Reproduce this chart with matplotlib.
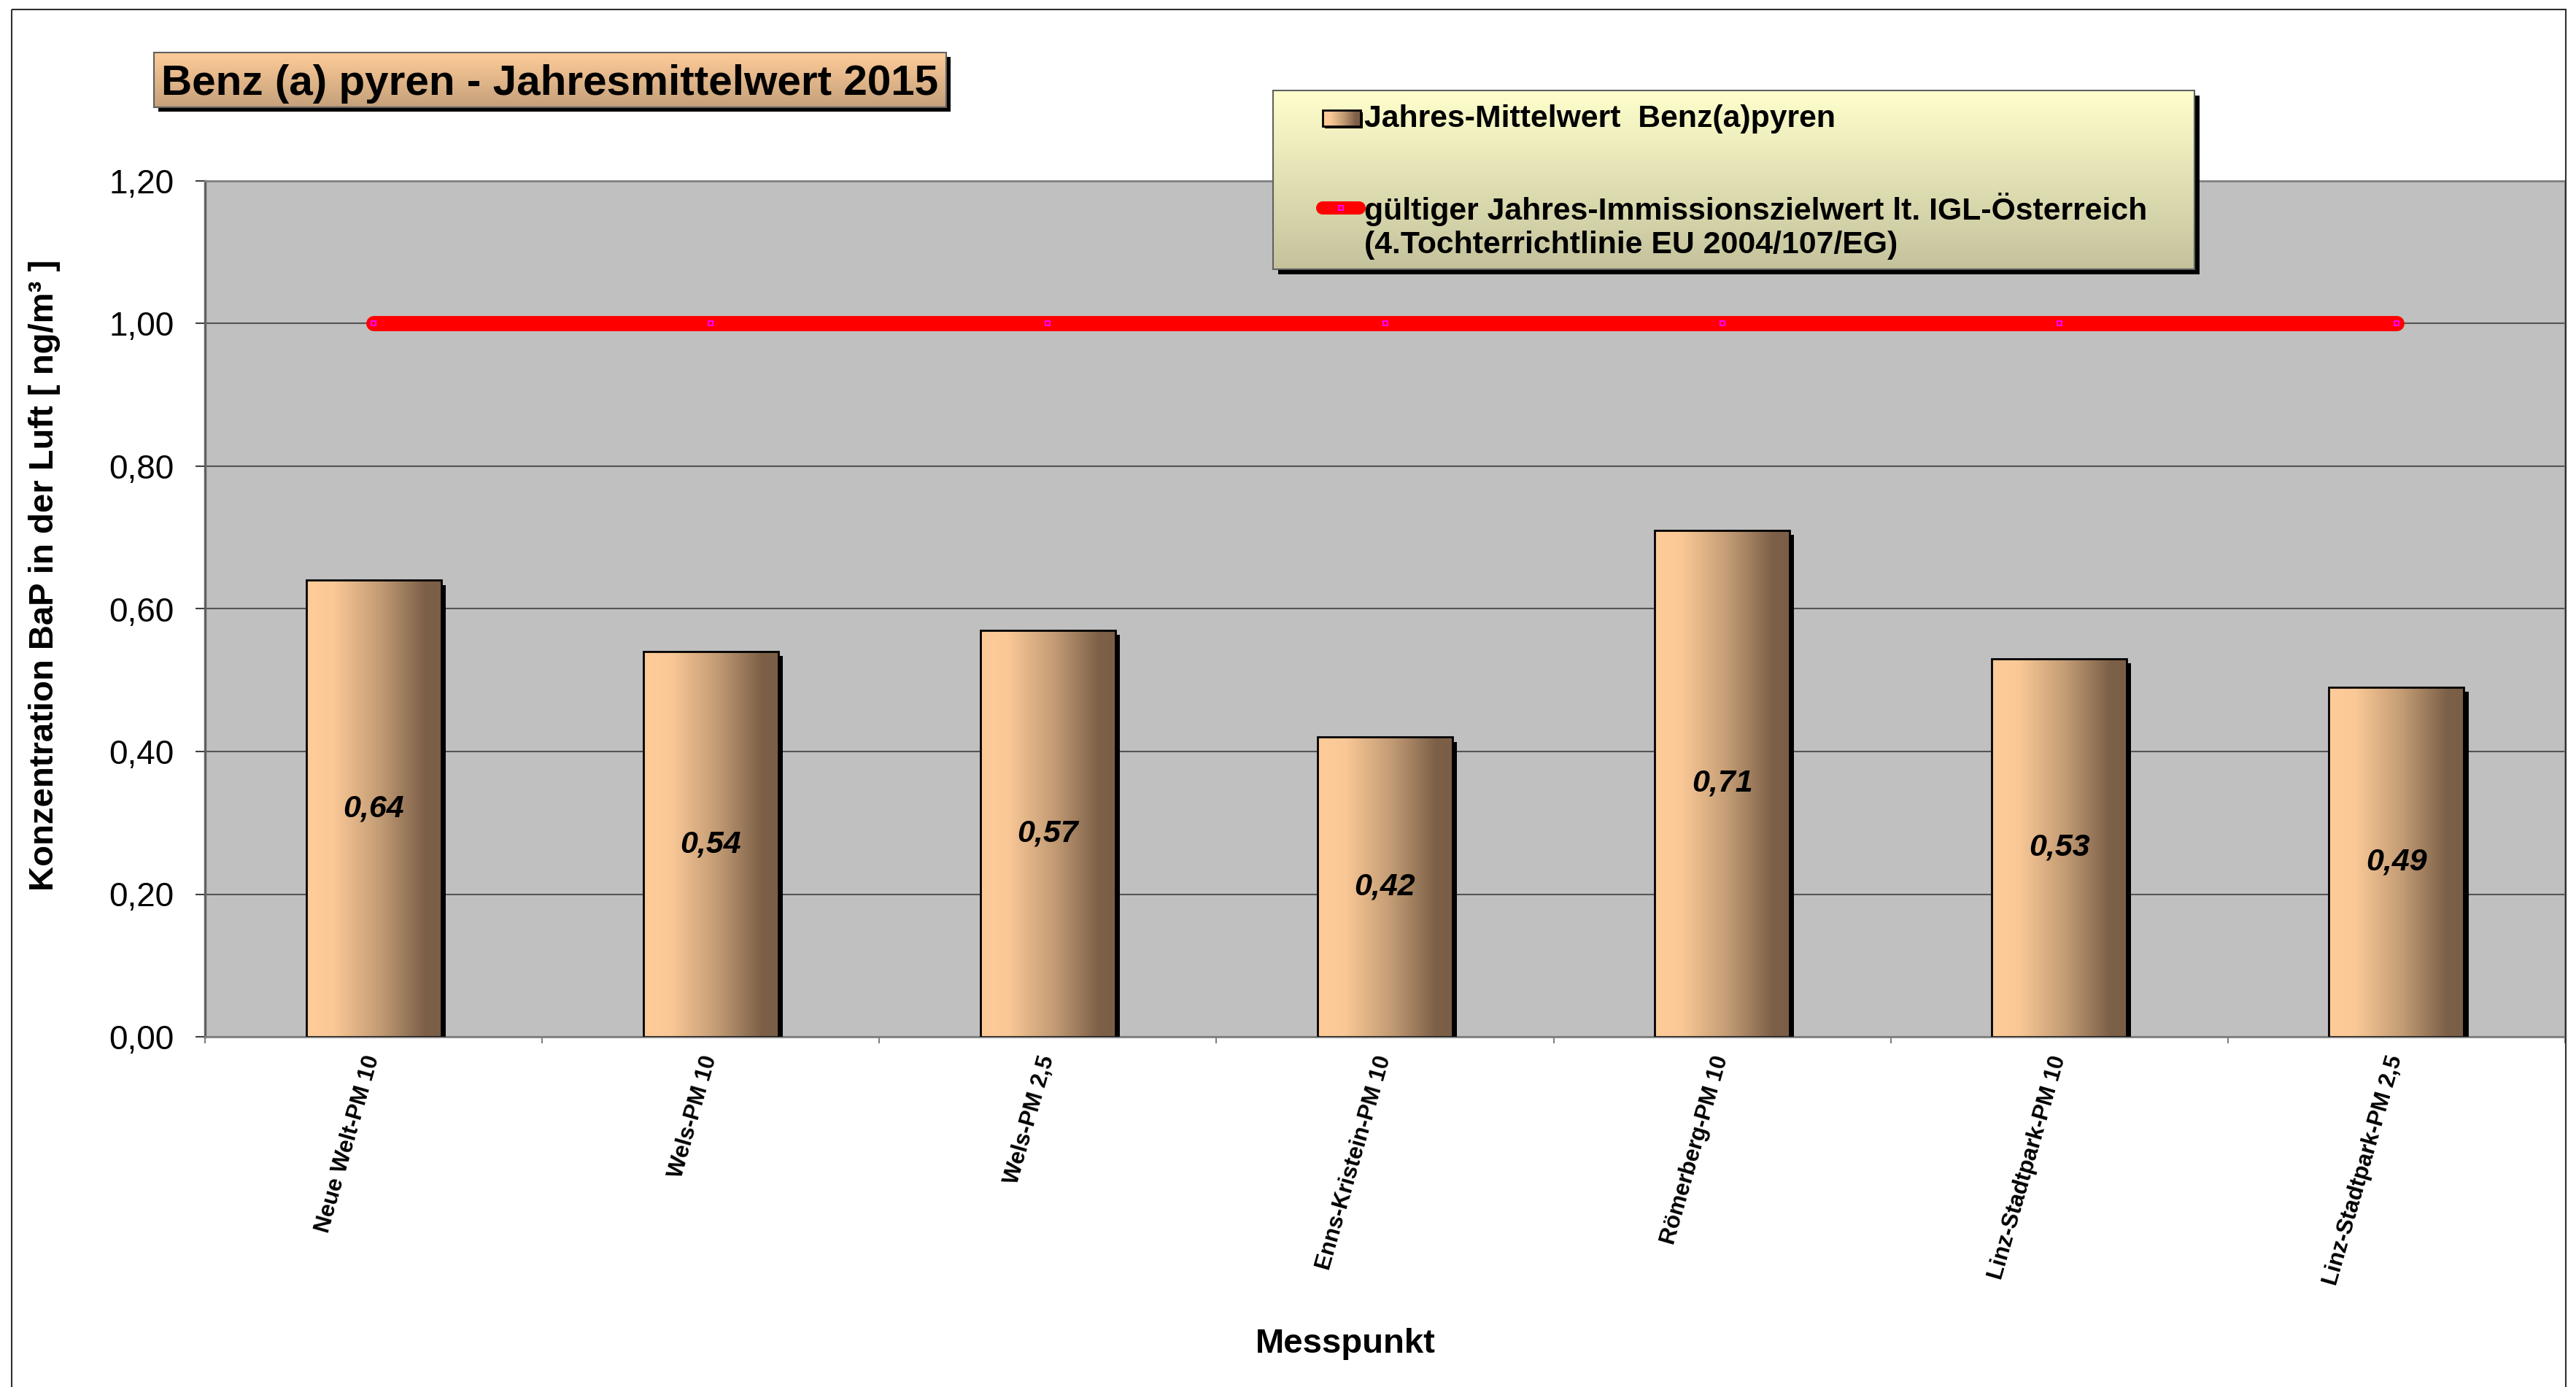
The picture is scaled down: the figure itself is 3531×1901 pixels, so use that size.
import matplotlib
matplotlib.use("Agg")
import matplotlib.pyplot as plt
import numpy as np
from matplotlib.colors import LinearSegmentedColormap
from matplotlib.patches import Rectangle
from matplotlib import patheffects as pe

# Daten
messpunkte = ["Neue Welt-PM 10", "Wels-PM 10", "Wels-PM 2,5", "Enns-Kristein-PM 10",
              "Römerberg-PM 10", "Linz-Stadtpark-PM 10", "Linz-Stadtpark-PM 2,5"]
mittelwerte = [0.64, 0.54, 0.57, 0.42, 0.71, 0.53, 0.49]
zielwert = [1.0, 1.0, 1.0, 1.0, 1.0, 1.0, 1.0]
y_ticks = [0.0, 0.2, 0.4, 0.6, 0.8, 1.0, 1.2]

titel = "Benz (a) pyren - Jahresmittelwert 2015"
leg_bar = "Jahres-Mittelwert  Benz(a)pyren"
leg_line = "gültiger Jahres-Immissionszielwert lt. IGL-Österreich\n(4.Tochterrichtlinie EU 2004/107/EG)"

W, H = 3531, 1901
DPI = 100
plt.rcParams['font.family'] = ['Liberation Sans', 'DejaVu Sans']

bar_cmap = LinearSegmentedColormap.from_list(
    "bar", [(0, "#FFCC99"), (0.2, "#FAC896"), (0.55, "#C29B74"), (0.88, "#7C6048"), (1, "#7A5E45")])
title_cmap = LinearSegmentedColormap.from_list("tit", ["#FFCC99", "#C4A07A"])
leg_cmap = LinearSegmentedColormap.from_list("leg", ["#FFFFCC", "#C4C29C"])


def px_box(l, t, r, b):
    return [l / W, 1 - b / H, (r - l) / W, (b - t) / H]


fig = plt.figure(figsize=(W / DPI, H / DPI), dpi=DPI)

# Diagrammfläche
ax = fig.add_axes(px_box(281, 248, 3516, 1421))
ax.set_facecolor('#C0C0C0')
x = np.arange(len(messpunkte))

# Schatten + Balken
shadow = ax.bar(x, mittelwerte, width=0.4, color='#FFCC99', linewidth=0, zorder=3,
                path_effects=[pe.SimplePatchShadow(offset=(4.5, -4.5), shadow_rgbFace='black', alpha=1.0),
                              pe.Normal()])
grad_h = np.linspace(0, 1, 256).reshape(1, -1)
for b in shadow:
    im = ax.imshow(grad_h, cmap=bar_cmap, aspect='auto', interpolation='bilinear', zorder=3.5,
                   extent=[b.get_x(), b.get_x() + b.get_width(), 0, b.get_height()])
    im.set_clip_path(b)
ax.bar(x, mittelwerte, width=0.4, facecolor='none', edgecolor='black', linewidth=2, zorder=4)

for xi, v in zip(x, mittelwerte):
    ax.text(xi, v / 2, f"{v:.2f}".replace('.', ','), ha='center', va='center',
            fontsize=31, fontweight='bold', fontstyle='italic', zorder=6)

# Zielwert-Linie
ax.plot(x, zielwert, color='red', linewidth=15, solid_capstyle='round', zorder=5,
        marker='s', markersize=5, markerfacecolor='none', markeredgecolor='magenta', markeredgewidth=1.5)

ax.set_xlim(-0.5, len(messpunkte) - 0.5)
ax.set_ylim(0, 1.2)
ax.yaxis.grid(True, color='#555555', linewidth=1.5)
ax.set_axisbelow(True)

ax.set_yticks(y_ticks)
ax.set_yticklabels([f"{v:.2f}".replace('.', ',') for v in y_ticks], fontsize=33)
ax.tick_params(axis='y', length=9.4, width=1.5, color='#404040', pad=21)

ax.set_xticks(x)
ax.set_xticklabels(messpunkte, fontsize=22.5, fontweight='bold')
ax.set_xticks(np.arange(-0.5, len(messpunkte), 1), minor=True)
ax.tick_params(axis='x', which='major', length=0, pad=19)
ax.tick_params(axis='x', which='minor', length=6.5, width=1.5, color='#808080')
for tl in ax.get_xticklabels():
    tl.set_rotation(74)
    tl.set_ha('right')
    tl.set_va('center')
    tl.set_rotation_mode('anchor')

for s in ax.spines.values():
    s.set_color('#808080')
    s.set_linewidth(2)
ax.spines['left'].set_color('#606060')
ax.spines['left'].set_linewidth(2.5)

ax.set_ylabel("Konzentration BaP in der Luft [ ng/m³ ]", fontsize=34, fontweight='bold')
ax.yaxis.set_label_coords(-0.068, 0.5396)
ax.yaxis.label.set_va('center')
ax.set_xlabel("Messpunkt", fontsize=34, fontweight='bold')
ax.xaxis.set_label_coords(0.4833, -0.359)
ax.xaxis.label.set_va('center')

# Overlay in Pixelkoordinaten für Titel, Legende, Rahmen
ov = fig.add_axes([0, 0, 1, 1], zorder=10)
ov.patch.set_visible(False)
ov.axis('off')
grad_v = np.linspace(0, 1, 256).reshape(-1, 1)


def gradient_box(l, t, r, b, cmap, sh):
    ov.add_patch(Rectangle((l + sh, t + sh), r - l, b - t, facecolor='black', edgecolor='none', zorder=1))
    ov.imshow(grad_v, cmap=cmap, aspect='auto', interpolation='bilinear', extent=[l, r, b, t], zorder=2)
    ov.add_patch(Rectangle((l, t), r - l, b - t, facecolor='none', edgecolor='#606060',
                           linewidth=1.5, zorder=3))


# Titel
gradient_box(211, 72, 1297, 147, title_cmap, 6)
ov.text(754, 115, titel, ha='center', va='center', fontsize=42, fontweight='bold', zorder=6)

# Legende
gradient_box(1745, 124, 3008, 369, leg_cmap, 7)
ov.add_patch(Rectangle((1816, 154), 52, 22, facecolor='black', edgecolor='none', zorder=4))
ov.imshow(grad_h, cmap=bar_cmap, aspect='auto', interpolation='bilinear',
          extent=[1813, 1865, 173, 151], zorder=4.5)
ov.add_patch(Rectangle((1813, 151), 52, 22, facecolor='none', edgecolor='black', linewidth=2, zorder=5))
ov.text(1870, 163, leg_bar, ha='left', va='center', fontsize=30.8, fontweight='bold', zorder=6)

ov.plot([1813, 1863], [285, 285], color='red', linewidth=13, solid_capstyle='round', zorder=5)
ov.plot([1838], [285], marker='s', markersize=5, markerfacecolor='none',
        markeredgecolor='magenta', markeredgewidth=1.5, zorder=5.5)
ov.text(1870, 310, leg_line, ha='left', va='center', fontsize=30.8, fontweight='bold',
        linespacing=1.2, zorder=6)

# Rahmen
ov.add_patch(Rectangle((16, 13), 3501, 2000, facecolor='none', edgecolor='#303030',
                       linewidth=1.5, clip_on=False, zorder=7))

ov.set_xlim(0, W)
ov.set_ylim(H, 0)

fig.savefig("out.png", dpi=DPI)
